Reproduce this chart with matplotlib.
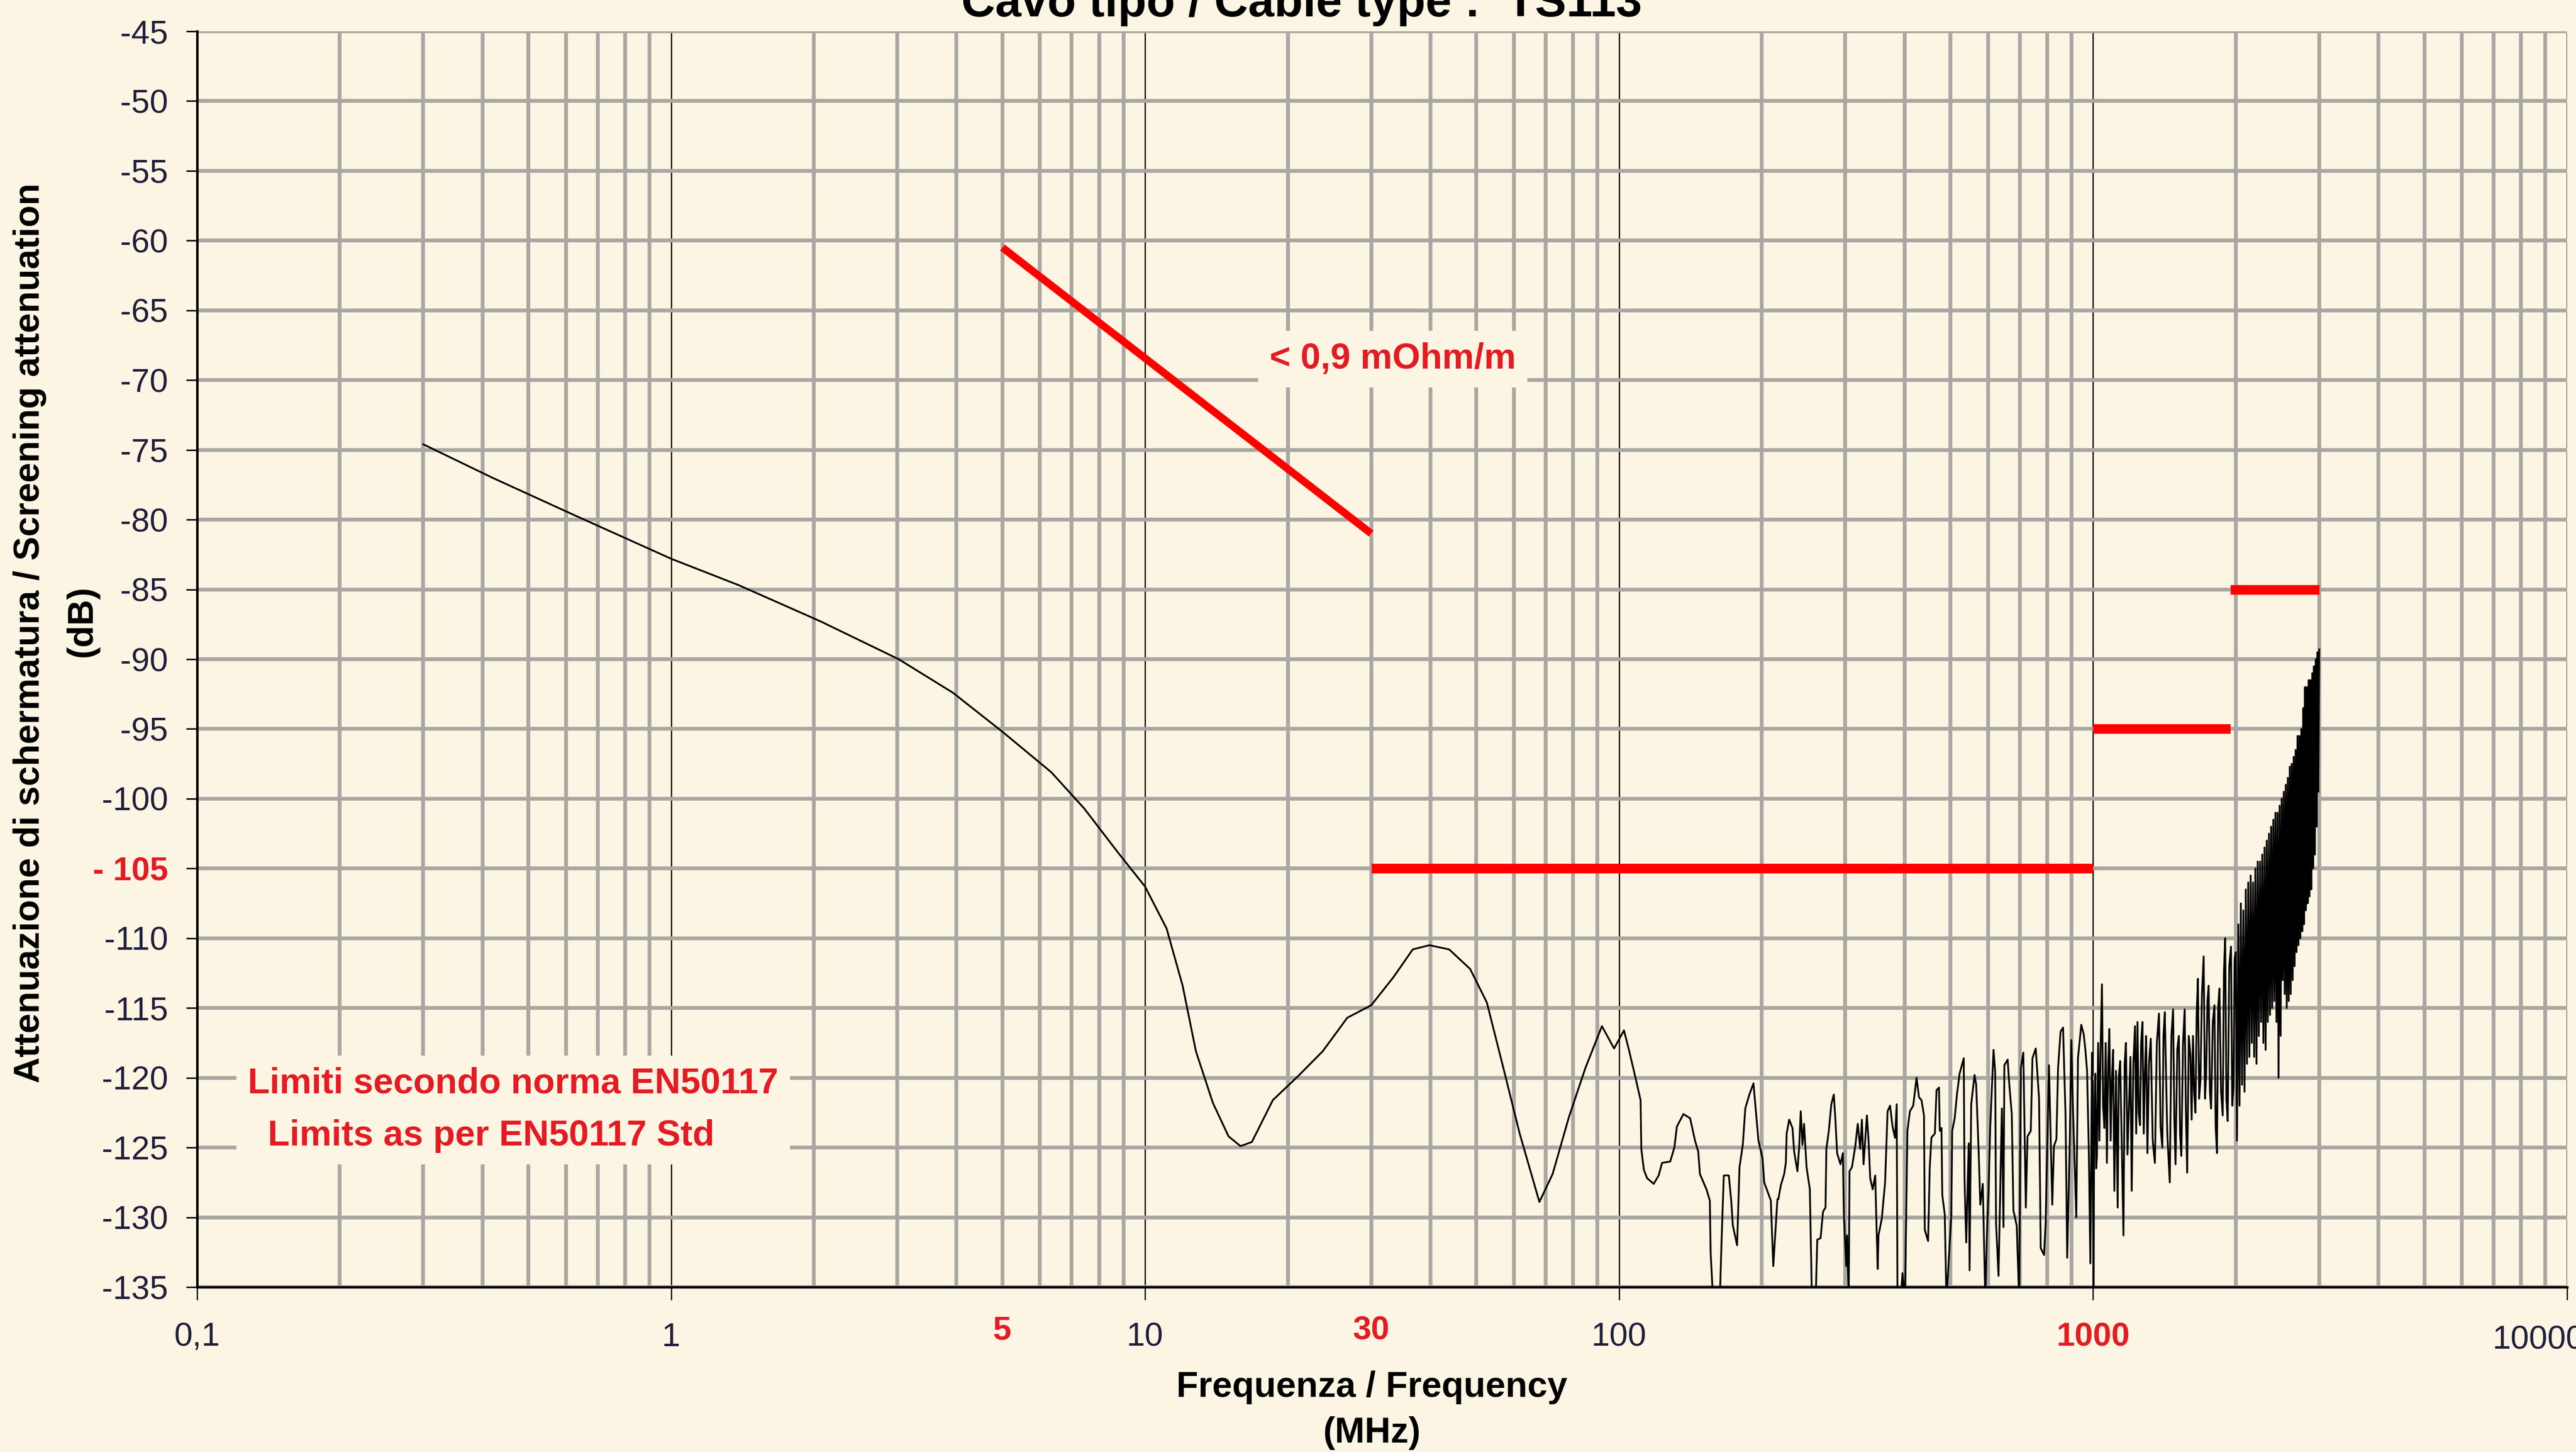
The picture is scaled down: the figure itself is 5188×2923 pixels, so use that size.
import matplotlib
matplotlib.use('Agg')
import matplotlib.pyplot as plt
from matplotlib.ticker import FixedLocator, LogLocator, NullFormatter

plt.rcParams['font.family'] = ['Liberation Sans', 'DejaVu Sans']

BG = '#FDF5E3'
GRID = '#A9A7A2'
RED = '#FF0000'
RED_TXT = '#E41B23'
INK = '#201E3A'

# curva misurata, parte liscia (MHz / dB)
freq_low = [0.30, 0.42, 0.627, 1.0, 1.39, 2.07, 3.02, 3.93, 5.0, 6.34, 7.44, 8.74, 10.0,
            11.1, 12.0, 12.8, 13.9, 15.0, 15.9, 16.8, 18.6, 21.0, 23.7, 26.7, 30.0,
            33.4, 36.7, 39.8, 43.8, 48.5, 52.6, 57.0, 61.7, 67.9, 72.4, 78.4, 84.9, 92.0]
att_low = [-74.6, -77.0, -79.7, -82.8, -84.7, -87.3, -90.0, -92.4, -95.2, -98.1, -100.7, -103.8, -106.3,
           -109.3, -113.4, -118.1, -121.8, -124.2, -124.9, -124.6, -121.6, -119.9, -118.1, -115.7, -114.8,
           -112.8, -110.8, -110.5, -110.8, -112.2, -114.6, -119.3, -124.0, -128.9, -126.9, -122.8, -119.3, -116.3]

# parte rumorosa, letta a tratti (MHz, dB)
band_100_215 = [(97.6, -117.9), (102.4, -116.6), (104.9, -118.0), (108.3, -120.0), (111.0, -121.6),
                (111.4, -125.1), (112.8, -126.6), (114.6, -127.2), (118.3, -127.6), (121.2, -127.0),
                (123.2, -126.1), (128.2, -126.0), (130.8, -125.0), (132.4, -123.5), (136.7, -122.6),
                (141.2, -122.9), (144.6, -124.5), (146.9, -125.3), (148.1, -126.9), (152.9, -128.0),
                (155.4, -128.8), (156.0, -132.5), (157.9, -136.0), (163.1, -136.0), (164.4, -132.0),
                (166.3, -127.0), (170.4, -127.0), (172.4, -128.8), (173.8, -130.6), (177.4, -132.0),
                (179.5, -126.4), (182.4, -124.8), (184.6, -122.2), (188.3, -121.2), (192.1, -120.4),
                (194.5, -122.5), (196.8, -124.5), (200.8, -125.8), (202.4, -127.5), (209.0, -128.8),
                (211.5, -133.5), (215.8, -128.7)]

band_215_460 = [(216.8, -128.7), (219.4, -127.7), (223.0, -126.9), (224.8, -126.1), (225.7, -124.0),
                (228.5, -123.0), (232.2, -123.6), (234.1, -125.3), (237.8, -126.7), (239.8, -125.0),
                (241.7, -122.4), (243.7, -124.8), (245.6, -123.3), (248.6, -126.4), (252.6, -128.0),
                (255.2, -136.0), (259.8, -136.0), (261.9, -131.6), (266.1, -131.5), (269.3, -129.6),
                (272.6, -129.3), (273.7, -125.1), (277.0, -123.8), (280.4, -121.9), (283.8, -121.2),
                (286.1, -123.1), (288.4, -125.4), (293.1, -126.2), (296.6, -125.4), (297.9, -129.6),
                (301.4, -133.5), (302.6, -131.3), (305.1, -136.0), (306.3, -126.7), (310.0, -126.4),
                (315.0, -124.9), (318.8, -123.3), (322.7, -125.1), (325.3, -123.0), (327.9, -126.2),
                (333.3, -122.7), (336.0, -124.5), (338.7, -127.2), (342.8, -128.0), (347.0, -127.0),
                (351.2, -133.7), (352.6, -131.3), (358.3, -130.1), (364.1, -127.5), (368.5, -122.4),
                (373.0, -122.0), (377.5, -123.5), (382.1, -124.3), (385.2, -121.9), (386.7, -136.0),
                (393.0, -136.0), (396.1, -134.0), (401.0, -136.0), (405.8, -123.8), (410.7, -122.4),
                (417.4, -122.0), (424.2, -120.0), (429.3, -121.4), (434.5, -121.6), (439.8, -122.7),
                (441.5, -130.9), (448.7, -131.7), (452.3, -126.4), (456.0, -124.3)]

band_460_1000 = [(458.1, -124.2), (463.7, -124.0), (467.4, -120.9), (473.0, -120.7), (474.9, -123.8),
                 (478.8, -123.6), (480.7, -128.4), (486.5, -129.8), (490.5, -136.0), (502.3, -129.8),
                 (504.4, -123.8), (510.5, -122.9), (516.6, -121.1), (522.9, -119.7), (533.5, -118.6),
                 (535.6, -127.3), (540.0, -131.8), (546.6, -124.7), (548.8, -133.8), (553.2, -121.9),
                 (562.2, -119.8), (566.7, -120.5), (573.6, -125.3), (578.2, -129.1), (585.2, -127.6),
                 (592.4, -136.0), (597.2, -131.1), (602.0, -128.0), (606.8, -123.5), (616.6, -118.0),
                 (621.6, -119.6), (624.1, -130.4), (631.7, -134.2), (642.0, -122.2), (647.1, -130.7),
                 (649.8, -119.1), (660.3, -118.7), (665.7, -120.5), (673.7, -122.6), (679.1, -129.5),
                 (690.1, -130.6), (698.5, -136.0), (704.1, -119.3), (712.6, -118.2), (721.3, -129.3),
                 (727.2, -124.2), (738.9, -123.8), (744.9, -118.6), (756.9, -117.9), (769.2, -121.5),
                 (775.4, -132.2), (788.0, -132.7), (794.3, -130.4), (807.1, -119.1), (820.2, -129.1),
                 (826.8, -124.9), (836.8, -124.4), (843.6, -119.3), (853.9, -116.7), (864.3, -116.4),
                 (874.8, -122.7), (881.9, -132.9), (892.6, -124.9), (899.7, -117.3), (907.0, -122.2),
                 (921.7, -130.0), (929.2, -118.6), (944.3, -116.2), (955.7, -116.9), (963.4, -118.0),
                 (971.2, -119.5), (979.1, -124.9), (987.0, -133.3), (994.7, -118.2), (1002.6, -136.0)]

band_1000_2000 = [(1005, -124.0), (1010.9, -119.7), (1015, -126.5), (1019.1, -125.6), (1025, -117.5),
                  (1031, -124.5), (1037, -118.0), (1044.0, -113.3), (1050, -122.0), (1056.6, -123.6),
                  (1063, -117.5), (1069.5, -126.1), (1076, -119.0), (1082.4, -116.5), (1089, -124.5),
                  (1095.5, -120.2), (1102, -118.0), (1108.9, -128.1), (1118, -119.5), (1126.9, -129.3),
                  (1133, -120.0), (1140.5, -118.8), (1150, -125.0), (1159.0, -131.3), (1166, -119.0),
                  (1173.0, -117.5), (1182, -125.5), (1192.1, -121.3), (1199, -118.5), (1206.4, -128.1),
                  (1216, -119.0), (1226.0, -116.3), (1233, -124.0), (1240.8, -116.0), (1248, -122.5),
                  (1256.0, -123.4), (1263, -117.5), (1271.1, -116.0), (1279, -124.0), (1286.4, -119.7),
                  (1294, -117.0), (1302.2, -125.4), (1312, -119.0), (1323.4, -117.2), (1336, -124.5),
                  (1350.2, -126.1), (1363, -117.5), (1377.5, -115.4), (1388, -123.5), (1399.9, -125.0),
                  (1408, -117.0), (1416.7, -115.3), (1434, -124.0), (1451.4, -127.5), (1463, -117.0),
                  (1475.0, -115.1), (1484, -123.0), (1492.8, -126.2), (1505, -118.0), (1517.1, -117.0),
                  (1526, -124.0), (1535.4, -125.6), (1548, -117.5), (1560.3, -115.1), (1570, -122.5),
                  (1579.5, -126.8), (1592, -117.0), (1604.8, -118.4), (1614, -123.0), (1624.5, -117.0),
                  (1634, -121.0), (1644.1, -122.5), (1654, -115.5), (1663.9, -112.9), (1674, -121.5),
                  (1684.3, -120.2), (1697, -114.0), (1711.3, -111.3), (1722, -121.5), (1732.3, -119.7),
                  (1743, -114.5), (1753.2, -113.4), (1764, -121.0), (1774.3, -122.2), (1789, -116.0),
                  (1803.2, -114.8), (1814, -123.5), (1825.3, -125.4), (1836, -115.0), (1847.3, -113.6),
                  (1862, -121.0), (1877.3, -122.7), (1888, -112.5), (1899.9, -110.0), (1911, -121.5),
                  (1923.2, -123.1), (1938, -112.0), (1954.4, -110.6), (1966, -122.0), (1978.0, -120.6),
                  (1989, -111.5)]

band_2000_3000 = [(2000, -111.0), (2012, -124.5), (2025, -109.0), (2037, -122.0), (2050, -107.5),
                  (2062, -120.5), (2075, -108.0), (2087, -121.0), (2100, -106.5), (2112, -119.0),
                  (2125, -106.0), (2137, -118.5), (2150, -105.5), (2162, -117.5), (2175, -106.0),
                  (2187, -118.5), (2200, -105.0), (2212, -119.0), (2225, -104.5), (2237, -117.0),
                  (2250, -104.5), (2262, -116.0), (2275, -104.0), (2287, -117.5), (2300, -103.5),
                  (2312, -118.0), (2325, -103.0), (2337, -116.0), (2350, -102.5), (2362, -115.5),
                  (2375, -102.0), (2387, -115.0), (2400, -101.5), (2412, -114.5), (2425, -101.0),
                  (2437, -116.0), (2450, -101.0), (2462, -120.0), (2475, -100.5), (2487, -117.0),
                  (2500, -100.0), (2512, -113.0), (2525, -99.5), (2537, -114.0), (2550, -99.0),
                  (2562, -115.0), (2575, -98.5), (2587, -114.5), (2600, -97.7), (2612, -114.0),
                  (2625, -97.5), (2637, -113.0), (2650, -97.0), (2662, -112.0), (2675, -96.5),
                  (2687, -111.0), (2700, -95.5), (2712, -110.5), (2725, -95.5), (2737, -110.0),
                  (2750, -95.0), (2762, -109.5), (2775, -93.5), (2787, -109.0), (2800, -92.0),
                  (2812, -108.0), (2825, -92.0), (2837, -107.5), (2850, -91.5), (2862, -107.0),
                  (2875, -91.5), (2887, -106.5), (2900, -91.0), (2912, -105.0), (2925, -90.5),
                  (2937, -104.0), (2950, -90.0), (2962, -102.0), (2975, -89.5), (2987, -99.5),
                  (3000, -89.3)]

# limiti EN50117
limit_slope_f = [5, 30]
limit_slope_db = [-60.5, -81]
limit_steps = [(30, 1000, -105), (1000, 1950, -95), (1950, 3000, -85)]

x_ticks = [0.1, 1, 10, 100, 1000, 10000]
x_tick_labels = ['0,1', '1', '10', '100', '1000', '']
x_extra = [(5, '5'), (30, '30')]
y_ticks = [-45, -50, -55, -60, -65, -70, -75, -80, -85, -90, -95, -100,
           -105, -110, -115, -120, -125, -130, -135]
y_tick_labels = ['-45', '-50', '-55', '-60', '-65', '-70', '-75', '-80', '-85', '-90', '-95', '-100',
                 '- 105', '-110', '-115', '-120', '-125', '-130', '-135']

freq = list(freq_low)
att = list(att_low)
for band in [band_100_215, band_215_460, band_460_1000, band_1000_2000, band_2000_3000]:
    for f, a in band:
        freq.append(f)
        att.append(a)

W, H = 5188, 2923
fig = plt.figure(figsize=(W / 100, H / 100), dpi=100, facecolor=BG)
ax = fig.add_axes([397 / W, 1 - 2591 / H, (5170 - 397) / W, (2591 - 63) / H])
ax.set_facecolor(BG)
ax.set_xscale('log')
ax.set_xlim(0.1, 10000)
ax.set_ylim(-135, -45)

# griglia
ax.set_axisbelow(True)
ax.xaxis.set_major_locator(FixedLocator(x_ticks))
ax.xaxis.set_minor_locator(LogLocator(base=10, subs=(2, 3, 4, 5, 6, 7, 8, 9), numticks=50))
ax.xaxis.set_minor_formatter(NullFormatter())
ax.grid(which='minor', axis='x', color=GRID, lw=5.5)
ax.grid(which='major', axis='x', color='black', lw=1.8)
ax.grid(which='major', axis='y', color=GRID, lw=5.5)

ax.set_xticks(x_ticks, labels=x_tick_labels)
ax.set_yticks(y_ticks, labels=y_tick_labels)
ax.tick_params(axis='x', which='major', length=19, width=1.8, direction='out', pad=32,
               labelsize=48, labelcolor=INK)
ax.tick_params(axis='x', which='minor', length=0)
ax.tick_params(axis='y', length=16, width=2.2, direction='out', pad=26,
               labelsize=48, labelcolor=INK)

for lbl in ax.get_yticklabels():
    if lbl.get_text() == '- 105':
        lbl.set_color(RED_TXT)
        lbl.set_fontweight('bold')
for lbl in ax.get_xticklabels():
    if lbl.get_text() == '1000':
        lbl.set_color(RED_TXT)
        lbl.set_fontweight('bold')

for f, txt in x_extra:
    ax.text(f, -0.035, txt, transform=ax.get_xaxis_transform(), ha='center', va='center',
            color=RED_TXT, fontsize=48, fontweight='bold', clip_on=False)
# ultima etichetta, spostata come nell'originale
ax.text(0.988, -0.0425, '10000', transform=ax.transAxes, ha='center', va='center',
        color=INK, fontsize=48, clip_on=False)

for side in ['top', 'right']:
    ax.spines[side].set_visible(False)
ax.spines['left'].set_linewidth(3.6)
ax.spines['bottom'].set_linewidth(3.6)

# curva
ax.plot(freq, att, color='black', lw=2.6, zorder=3)

# limiti
ax.plot(limit_slope_f, limit_slope_db, color=RED, lw=11, solid_capstyle='butt', zorder=4)
for f0, f1, lev in limit_steps:
    ax.plot([f0, f1], [lev, lev], color=RED, lw=14, solid_capstyle='butt', zorder=4)

ax.text(33.3, -68.5, '< 0,9 mOhm/m', ha='center', va='center', color=RED_TXT,
        fontsize=52, fontweight='bold', zorder=5,
        bbox=dict(boxstyle='square,pad=0.32', facecolor=BG, edgecolor='none'))
ax.text(0.128, -122.3, 'Limiti secondo norma EN50117\n  Limits as per EN50117 Std',
        ha='left', va='center', multialignment='left', linespacing=1.7, color=RED_TXT,
        fontsize=52, fontweight='bold', zorder=5,
        bbox=dict(boxstyle='square,pad=0.32', facecolor=BG, edgecolor='none'))

# titoli assi
fig.text(2621 / W, 1 - 33 / H, 'Cavo tipo / Cable type :  TS113', ha='center', va='baseline',
         fontsize=68, fontweight='bold', color='black')
fig.text(2763 / W, 1 - 2793 / H, 'Frequenza / Frequency', ha='center', va='center',
         fontsize=52, fontweight='bold', color='black')
fig.text(2763 / W, 1 - 2885 / H, '(MHz)', ha='center', va='center',
         fontsize=52, fontweight='bold', color='black')
fig.text(60 / W, 1 - 1274 / H, 'Attenuazione di schermatura / Screening attenuation',
         rotation=90, ha='center', va='center', fontsize=52, fontweight='bold', color='black')
fig.text(165 / W, 1 - 1251 / H, '(dB)', rotation=90, ha='center', va='center',
         fontsize=52, fontweight='bold', color='black')

fig.savefig('out.png', dpi=100, facecolor=BG)
